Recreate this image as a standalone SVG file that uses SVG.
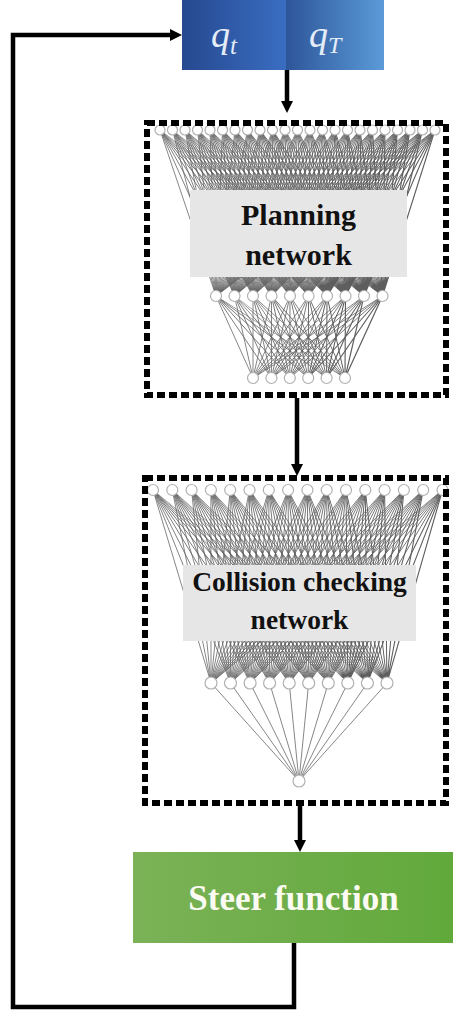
<svg xmlns="http://www.w3.org/2000/svg" xmlns:xlink="http://www.w3.org/1999/xlink" width="455" height="1014" viewBox="0 0 455 1014">
<defs>
<style>
.conn{stroke:#000;stroke-width:4.5;fill:none}
.dash{fill:none;stroke:#000;stroke-width:6;stroke-dasharray:8 4}
.w{stroke:#5e5e5e;stroke-width:0.75;fill:none}
.n{fill:#fff;stroke:#b0b0b0;stroke-width:1.2}
.lbl{fill:#e6e6e6}
.t{font-family:"Liberation Serif","Times New Roman",serif;font-weight:bold;text-anchor:middle;fill:#111}
.q{font-family:"Liberation Serif","Times New Roman",serif;font-style:italic;fill:#e4ecf8}
</style>
<linearGradient id="gq1" x1="0" y1="0" x2="1" y2="0"><stop offset="0" stop-color="#26498f"/><stop offset="1" stop-color="#3a6dc2"/></linearGradient>
<linearGradient id="gq2" x1="0" y1="0" x2="1" y2="0"><stop offset="0" stop-color="#2d5699"/><stop offset="1" stop-color="#5b9ad8"/></linearGradient>
<linearGradient id="gs" x1="0" y1="0" x2="1" y2="0"><stop offset="0" stop-color="#7bb257"/><stop offset="1" stop-color="#61a93b"/></linearGradient>
<marker id="ah" viewBox="0 0 12 12" refX="2" refY="6" markerWidth="12" markerHeight="12" markerUnits="userSpaceOnUse" orient="auto"><path d="M0,0 L12,6 L0,12 z" fill="#000"/></marker>
<path id="fanP1" class="w" d="M160 130L216 296M172.5 130L216 296M185 130L216 296M197.5 130L216 296M210 130L216 296M222.5 130L216 296M235 130L216 296M247.5 130L216 296M260 130L216 296M272.5 130L216 296M285 130L216 296M297.5 130L216 296M310 130L216 296M322.5 130L216 296M335 130L216 296M347.5 130L216 296M360 130L216 296M372.5 130L216 296M385 130L216 296M397.5 130L216 296M410 130L216 296M422.5 130L216 296M435 130L216 296"/>
<path id="fanP2" class="w" d="M216 296L253 378M234.5 296L253 378M253 296L253 378M271.5 296L253 378M290 296L253 378M308.5 296L253 378M327 296L253 378M345.5 296L253 378M364 296L253 378M382.5 296L253 378"/>
<path id="fanC1" class="w" d="M153 490L211 683M172.3 490L211 683M191.6 490L211 683M210.9 490L211 683M230.2 490L211 683M249.5 490L211 683M268.8 490L211 683M288.1 490L211 683M307.4 490L211 683M326.7 490L211 683M346 490L211 683M365.3 490L211 683M384.6 490L211 683M403.9 490L211 683M423.2 490L211 683M442.5 490L211 683"/>
</defs>

<g id="q-input">
<rect x="182" y="0" width="104" height="70" fill="url(#gq1)"/>
<rect x="286" y="0" width="98" height="70" fill="url(#gq2)"/>
<text class="q" x="211" y="47" font-size="38">q<tspan font-size="25" dy="7">t</tspan></text>
<text class="q" x="309" y="47" font-size="38">q<tspan font-size="24" dy="6">T</tspan></text>
</g>

<g id="planning-network">
<use xlink:href="#fanP1"/>
<use xlink:href="#fanP1" transform="matrix(1,0,0.11145,1,-14.488,0)"/>
<use xlink:href="#fanP1" transform="matrix(1,0,0.22289,1,-28.976,0)"/>
<use xlink:href="#fanP1" transform="matrix(1,0,0.33434,1,-43.464,0)"/>
<use xlink:href="#fanP1" transform="matrix(1,0,0.44578,1,-57.952,0)"/>
<use xlink:href="#fanP1" transform="matrix(1,0,0.55723,1,-72.44,0)"/>
<use xlink:href="#fanP1" transform="matrix(1,0,0.66867,1,-86.928,0)"/>
<use xlink:href="#fanP1" transform="matrix(1,0,0.78012,1,-101.416,0)"/>
<use xlink:href="#fanP1" transform="matrix(1,0,0.89157,1,-115.904,0)"/>
<use xlink:href="#fanP1" transform="matrix(1,0,1.00301,1,-130.392,0)"/>
<use xlink:href="#fanP2"/>
<use xlink:href="#fanP2" transform="matrix(1,0,0.22439,1,-66.42,0)"/>
<use xlink:href="#fanP2" transform="matrix(1,0,0.44878,1,-132.84,0)"/>
<use xlink:href="#fanP2" transform="matrix(1,0,0.67317,1,-199.26,0)"/>
<use xlink:href="#fanP2" transform="matrix(1,0,0.89756,1,-265.68,0)"/>
<use xlink:href="#fanP2" transform="matrix(1,0,1.12195,1,-332.1,0)"/>
<g class="n">
<circle cx="160" cy="130" r="5"/><circle cx="172.5" cy="130" r="5"/><circle cx="185" cy="130" r="5"/><circle cx="197.5" cy="130" r="5"/><circle cx="210" cy="130" r="5"/><circle cx="222.5" cy="130" r="5"/><circle cx="235" cy="130" r="5"/><circle cx="247.5" cy="130" r="5"/><circle cx="260" cy="130" r="5"/><circle cx="272.5" cy="130" r="5"/><circle cx="285" cy="130" r="5"/><circle cx="297.5" cy="130" r="5"/><circle cx="310" cy="130" r="5"/><circle cx="322.5" cy="130" r="5"/><circle cx="335" cy="130" r="5"/><circle cx="347.5" cy="130" r="5"/><circle cx="360" cy="130" r="5"/><circle cx="372.5" cy="130" r="5"/><circle cx="385" cy="130" r="5"/><circle cx="397.5" cy="130" r="5"/><circle cx="410" cy="130" r="5"/><circle cx="422.5" cy="130" r="5"/><circle cx="435" cy="130" r="5"/>
<circle cx="216" cy="296" r="5.5"/><circle cx="234.5" cy="296" r="5.5"/><circle cx="253" cy="296" r="5.5"/><circle cx="271.5" cy="296" r="5.5"/><circle cx="290" cy="296" r="5.5"/><circle cx="308.5" cy="296" r="5.5"/><circle cx="327" cy="296" r="5.5"/><circle cx="345.5" cy="296" r="5.5"/><circle cx="364" cy="296" r="5.5"/><circle cx="382.5" cy="296" r="5.5"/>
<circle cx="253" cy="378" r="5.5"/><circle cx="271.4" cy="378" r="5.5"/><circle cx="289.8" cy="378" r="5.5"/><circle cx="308.2" cy="378" r="5.5"/><circle cx="326.6" cy="378" r="5.5"/><circle cx="345" cy="378" r="5.5"/>
</g>
<rect class="lbl" x="190" y="190" width="217" height="87"/>
<text class="t" x="298.5" y="225" font-size="30">Planning</text>
<text class="t" x="298.5" y="265" font-size="30">network</text>
<rect class="dash" x="147" y="123" width="299" height="272"/>
</g>

<g id="collision-network">
<use xlink:href="#fanC1"/>
<use xlink:href="#fanC1" transform="matrix(1,0,0.1013,1,-49.64,0)"/>
<use xlink:href="#fanC1" transform="matrix(1,0,0.20259,1,-99.27,0)"/>
<use xlink:href="#fanC1" transform="matrix(1,0,0.30389,1,-148.91,0)"/>
<use xlink:href="#fanC1" transform="matrix(1,0,0.40518,1,-198.54,0)"/>
<use xlink:href="#fanC1" transform="matrix(1,0,0.50648,1,-248.18,0)"/>
<use xlink:href="#fanC1" transform="matrix(1,0,0.60777,1,-297.81,0)"/>
<use xlink:href="#fanC1" transform="matrix(1,0,0.70907,1,-347.44,0)"/>
<use xlink:href="#fanC1" transform="matrix(1,0,0.81036,1,-397.08,0)"/>
<use xlink:href="#fanC1" transform="matrix(1,0,0.91166,1,-446.71,0)"/>
<path class="w" d="M211 683L299 781M230.5 683L299 781M250.1 683L299 781M269.6 683L299 781M289.2 683L299 781M308.7 683L299 781M328.3 683L299 781M347.8 683L299 781M367.4 683L299 781M387 683L299 781"/>
<g class="n">
<circle cx="153" cy="490" r="5.5"/><circle cx="172.3" cy="490" r="5.5"/><circle cx="191.6" cy="490" r="5.5"/><circle cx="210.9" cy="490" r="5.5"/><circle cx="230.2" cy="490" r="5.5"/><circle cx="249.5" cy="490" r="5.5"/><circle cx="268.8" cy="490" r="5.5"/><circle cx="288.1" cy="490" r="5.5"/><circle cx="307.4" cy="490" r="5.5"/><circle cx="326.7" cy="490" r="5.5"/><circle cx="346" cy="490" r="5.5"/><circle cx="365.3" cy="490" r="5.5"/><circle cx="384.6" cy="490" r="5.5"/><circle cx="403.9" cy="490" r="5.5"/><circle cx="423.2" cy="490" r="5.5"/><circle cx="442.5" cy="490" r="5.5"/>
<circle cx="211" cy="683" r="6"/><circle cx="230.5" cy="683" r="6"/><circle cx="250.1" cy="683" r="6"/><circle cx="269.6" cy="683" r="6"/><circle cx="289.2" cy="683" r="6"/><circle cx="308.7" cy="683" r="6"/><circle cx="328.3" cy="683" r="6"/><circle cx="347.8" cy="683" r="6"/><circle cx="367.4" cy="683" r="6"/><circle cx="387" cy="683" r="6"/>
<circle cx="299" cy="781" r="6"/>
</g>
<rect class="lbl" x="183" y="565" width="233" height="76"/>
<text class="t" x="299.5" y="591" font-size="27.5">Collision checking</text>
<text class="t" x="299.5" y="629" font-size="27.5">network</text>
<rect class="dash" x="145" y="478" width="301" height="325"/>
</g>

<g id="steer-function">
<rect x="133" y="852" width="320" height="91" fill="url(#gs)"/>
<text class="t" x="293.5" y="910" font-size="35" style="fill:#fbfbf3">Steer function</text>
</g>

<g id="connectors">
<path class="conn" d="M287 70V103" marker-end="url(#ah)"/>
<path class="conn" d="M297 398V466" marker-end="url(#ah)"/>
<path class="conn" d="M300 806V842" marker-end="url(#ah)"/>
<path class="conn" d="M294 943V1007H13V35H172" marker-end="url(#ah)"/>
</g>
</svg>
